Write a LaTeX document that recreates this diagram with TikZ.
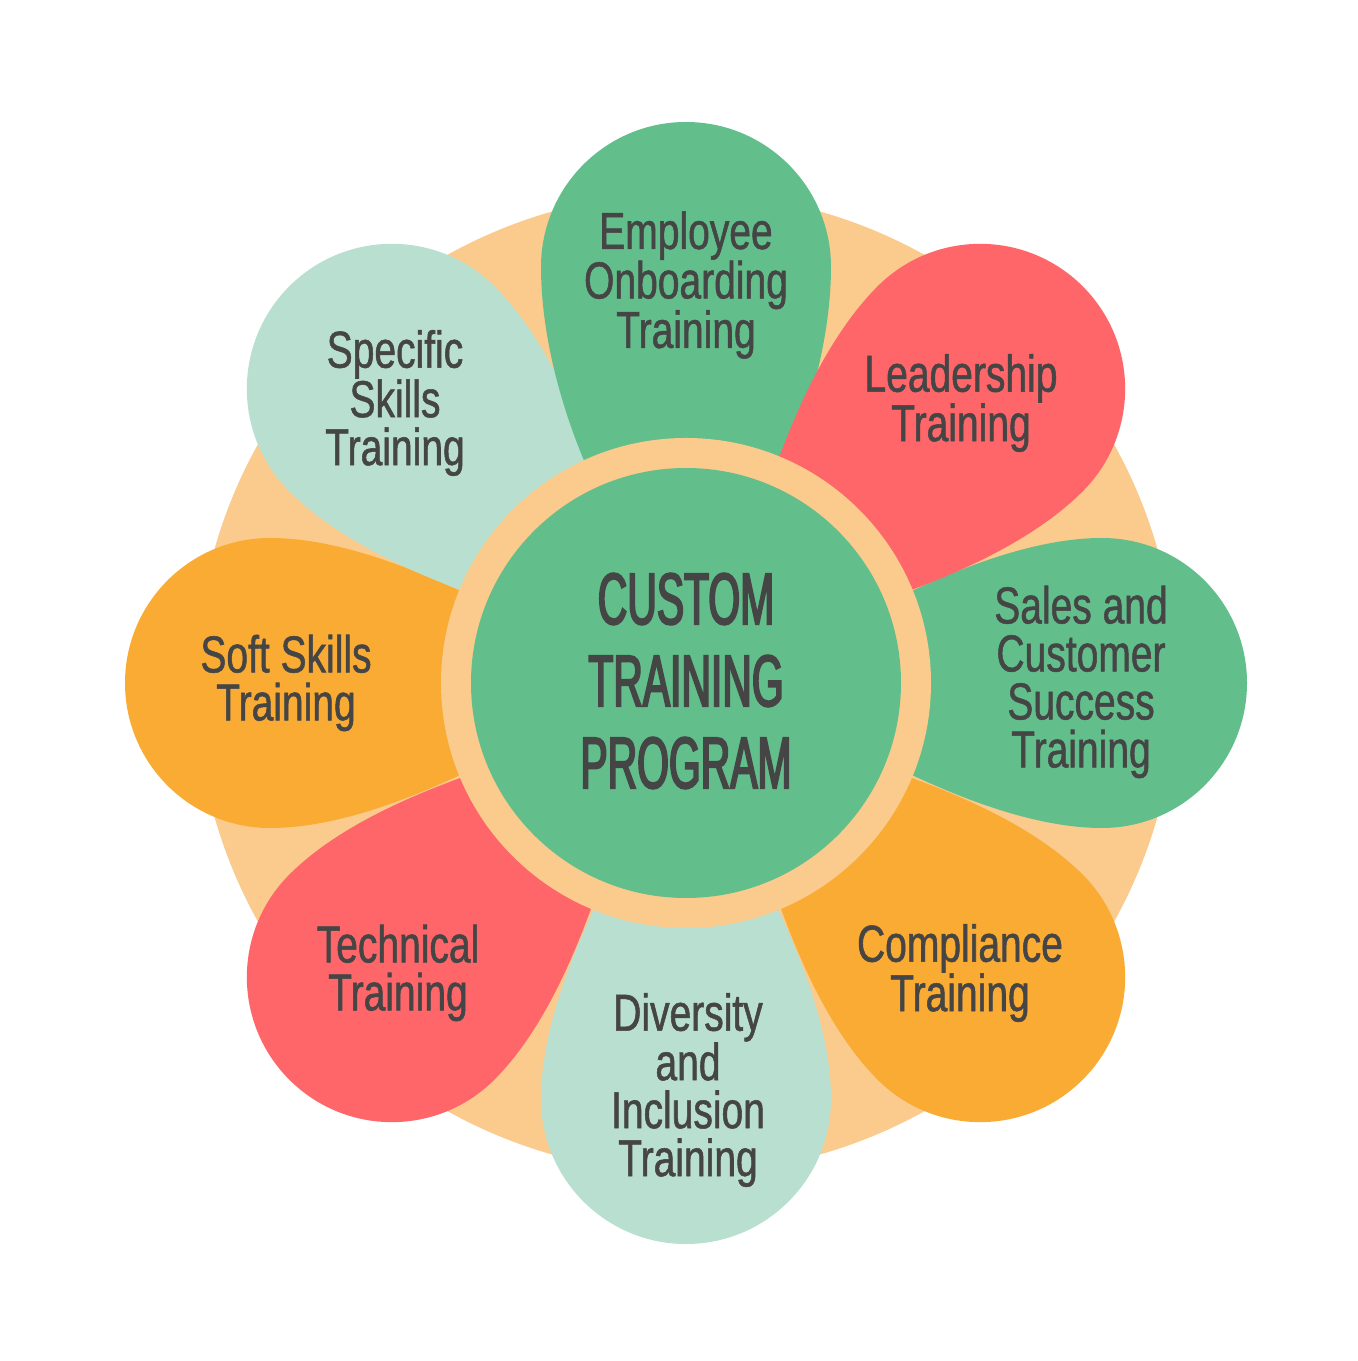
\documentclass[tikz,border=0pt]{standalone}
\usepackage{fontspec}
\setmainfont{Liberation Sans}
\newfontfamily\petalfont[FakeStretch=0.75,FakeBold=1]{Liberation Sans}
\newfontfamily\centerfont[FakeStretch=0.56,FakeBold=2.5]{Liberation Sans}
\definecolor{peach}{HTML}{FBCA8D}
\definecolor{pgreen}{HTML}{62BF8B}
\definecolor{pred}{HTML}{FE6669}
\definecolor{porange}{HTML}{F9AB33}
\definecolor{plight}{HTML}{B8DFCF}
\definecolor{tgray}{HTML}{454545}
% #1 angle, #2 colour, #3 bulge of the side near the tip
\newcommand\drawpetal[3]{%
  \begin{scope}[shift={(O)}, rotate=#1]
    \fill[#2] (60,0) .. controls (150,-#3) and (300,-145) .. (416,-145)
      arc[start angle=-90, end angle=90, radius=145]
      .. controls (300,145) and (150,#3) .. (60,0) -- cycle;
  \end{scope}
}
\tikzset{
  petaltext/.style={align=center, text=tgray, inner sep=0pt,
    font=\petalfont\fontsize{52}{48}\selectfont},
  centertext/.style={align=center, text=tgray, inner sep=0pt,
    font=\centerfont\fontsize{73}{82}\selectfont}
}
\begin{document}
\begin{tikzpicture}[x=1pt,y=1pt]
\useasboundingbox[fill=white] (0,0) rectangle (1358,1361);
\coordinate (O) at (686,678);
\fill[peach] (O) circle[radius=490];
\drawpetal{0}{pgreen}{55}
\drawpetal{-45}{porange}{55}
\drawpetal{-90}{plight}{55}
\drawpetal{-135}{pred}{55}
\drawpetal{180}{porange}{55}
\drawpetal{135}{plight}{60}
\drawpetal{90}{pgreen}{85}
\drawpetal{45}{pred}{60}
\fill[peach] (O) circle[radius=245];
\fill[pgreen] (O) circle[radius=215];
\node[centertext] (center) at (686,680) {CUSTOM\\TRAINING\\PROGRAM};
\node[petaltext] (employee) at (686,1076) {Employee\\Onboarding\\Training};
\node[petaltext] (leader) at (961,958) {Leadership\\Training};
\node[petaltext] (sales) at (1081,679) {Sales and\\Customer\\Success\\Training};
\node[petaltext] (compliance) at (960,388) {Compliance\\Training};
\node[petaltext] (diversity) at (688,271) {Diversity\\and\\Inclusion\\Training};
\node[petaltext] (technical) at (398,388) {Technical\\Training};
\node[petaltext] (soft) at (286,678) {Soft Skills\\Training};
\node[petaltext] (specific) at (395,958) {Specific\\Skills\\Training};
\end{tikzpicture}
\end{document}
